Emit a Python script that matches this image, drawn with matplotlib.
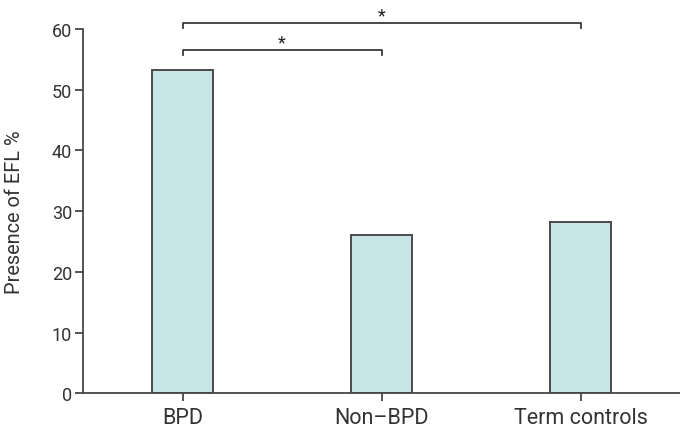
import matplotlib
matplotlib.use("Agg")
import matplotlib.pyplot as plt

categories = ["BPD", "Non–BPD", "Term controls"]
values = [53.2, 26.1, 28.2]
yticks = [0, 10, 20, 30, 40, 50, 60]
# significance brackets: (start index, end index, height in %)
brackets = [(0, 1, 56.6), (0, 2, 61.0)]

plt.rcParams['font.family'] = ['Roboto', 'DejaVu Sans']
text_color = "#333333"
line_color = "#474747"

fig = plt.figure(figsize=(6.8, 4.31), dpi=100)
ax = fig.add_axes([83/680, 1 - 394.3/431, 1 - 83/680, (394.3 - 30)/431])

x = list(range(len(categories)))
ax.bar(x, values, width=0.31, color="#c8e6e8", edgecolor="#4a4a4a", linewidth=1.4, zorder=2)

ax.set_xlim(-0.5, 2.5)
ax.set_ylim(0, 60)
ax.set_yticks(yticks)
ax.set_xticks(x)
ax.set_xticklabels(categories)

for s in ["top", "right"]:
    ax.spines[s].set_visible(False)
for s in ["left", "bottom"]:
    ax.spines[s].set_color(line_color)
    ax.spines[s].set_linewidth(1.3)

ax.tick_params(axis="both", colors=line_color, labelcolor=text_color,
               length=6, width=1.3)
ax.tick_params(axis="x", pad=4, labelsize=15.5)
ax.tick_params(axis="y", pad=2, labelsize=13)
ax.set_ylabel("Presence of EFL %", fontsize=14.4, color=text_color, labelpad=20)

tick_h = 0.8
for i0, i1, h in brackets:
    ax.plot([x[i0], x[i0], x[i1], x[i1]], [h - tick_h, h, h, h - tick_h],
            color="#3a3a3a", linewidth=1.3, clip_on=False, zorder=3)
    ax.text((x[i0] + x[i1]) / 2, h + 1.6, "*", ha="center", va="center_baseline",
            fontsize=13, color="#222222", clip_on=False)

fig.savefig("out.png", dpi=100)
